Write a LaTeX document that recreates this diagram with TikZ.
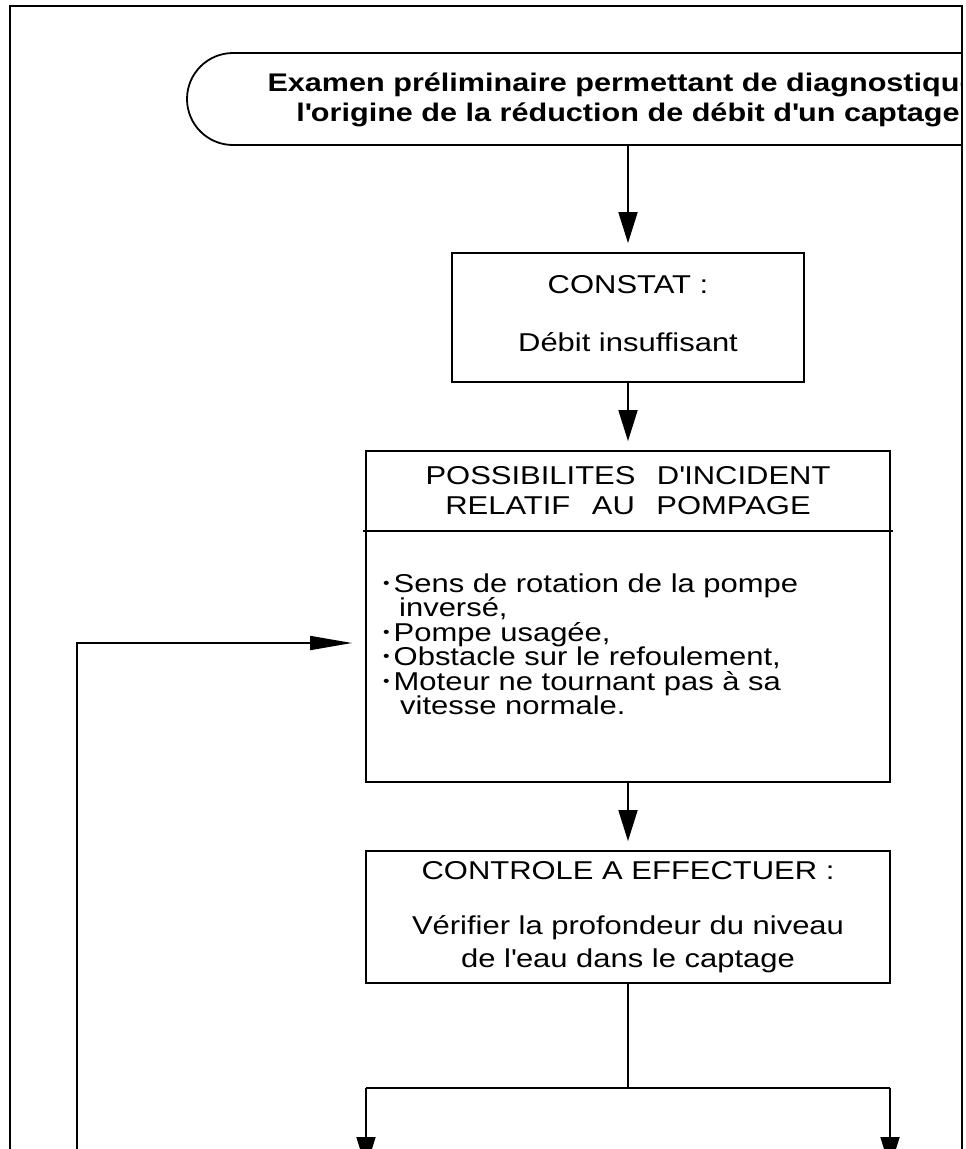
\documentclass[tikz,border=0pt]{standalone}
\usepackage{fontspec}
\setmainfont{Liberation Sans}[FakeStretch=1.2]
\usetikzlibrary{arrows.meta}
\newcommand\mybul{\makebox[10.5pt][l]{\raisebox{0.12em}{\scalebox{0.6}{•}}}}
\newcommand\q{\textquotesingle{}}
\begin{document}
\begin{tikzpicture}[x=1pt,y=-1pt,
  box/.style={draw, line width=1.8pt, rectangle, inner sep=0pt},
  conn/.style={line width=1.8pt},
  arr/.style={conn, -{Triangle[length=31pt,width=19pt]}, shorten >=9pt},
  darr/.style={conn, -{Triangle[length=31pt,width=19pt]}},
  harr/.style={conn, -{Triangle[length=42pt,width=14pt]}, shorten >=13pt},
  txt/.style={inner sep=0pt, anchor=base, font=\fontsize{25.8}{26}\selectfont},
  ltxt/.style={txt, anchor=base west},
  ttl/.style={inner sep=0pt, anchor=base, font=\fontsize{25.5}{30}\selectfont\bfseries}
]
\clip (0,0) rectangle (966,1149);
\fill[white] (0,0) rectangle (966,1149);
\draw[line width=2.5pt] (10,1160) -- (10,6) -- (962,6) -- (962,1160);

% title (cut off by the right edge of the frame)
\begin{scope}
\clip (0,0) rectangle (961,1149);
\node[box, rounded corners=46pt, minimum width=882pt, minimum height=92pt] (title) at (628,99) {};
\node[ttl] (t1) at (628,91) {Examen préliminaire permettant de diagnostiquer};
\node[ttl] (t2) at (628,121) {l\q origine de la réduction de débit d\q un captage};
\end{scope}

% constat
\node[box, minimum width=352pt, minimum height=129pt] (constat) at (628,317.5) {};
\node[txt] (c1) at (628,293) {CONSTAT :};
\node[txt] (c2) at (628,351) {Débit insuffisant};

% possibilites
\node[box, minimum width=524pt, minimum height=331pt] (poss) at (628,616.5) {};
\coordinate (hl) at (363,531);
\coordinate (hr) at (893,531);
\draw[conn] (hl) -- (hr);
\node[txt] (p1) at (628,484) {POSSIBILITES\hspace{0.5em} D\q INCIDENT};
\node[txt] (p2) at (628,514) {RELATIF\hspace{0.5em} AU\hspace{0.5em} POMPAGE};
\node[ltxt] (l1) at (383,592) {\mybul Sens de rotation de la pompe};
\node[ltxt] (l2) at (399,616) {inversé,};
\node[ltxt] (l3) at (383,641) {\mybul Pompe usagée,};
\node[ltxt] (l4) at (383,665) {\mybul Obstacle sur le refoulement,};
\node[ltxt] (l5) at (383,690) {\mybul Moteur ne tournant pas à sa};
\node[ltxt] (l6) at (400,714) {vitesse normale.};

% controle
\node[box, minimum width=524pt, minimum height=132pt] (ctrl) at (628,917) {};
\node[txt] (k1) at (628,879) {CONTROLE A EFFECTUER :};
\node[txt] (k2) at (628,934) {Vérifier la profondeur du niveau};
\node[txt] (k3) at (628,967) {de l\q eau dans le captage};

% connectors
\draw[arr] (title.south) -- (constat.north);
\draw[arr] (constat.south) -- (poss.north);
\draw[arr] (poss.south) -- (ctrl.north);

\coordinate (fork) at (628,1088);
\coordinate (forkL) at (366,1088);
\coordinate (forkR) at (890,1088);
\coordinate (endL) at (366,1168);
\coordinate (endR) at (890,1168);
\draw[conn] (ctrl.south) -- (fork);
\draw[conn] (forkL) -- (forkR);
\draw[darr] (forkL) -- (endL);
\draw[darr] (forkR) -- (endR);

\coordinate (loopB) at (77,1160);
\coordinate (loopC) at (77,643);
\draw[harr] (loopB) -- (loopC) -- (loopC -| poss.west);
\end{tikzpicture}
\end{document}
